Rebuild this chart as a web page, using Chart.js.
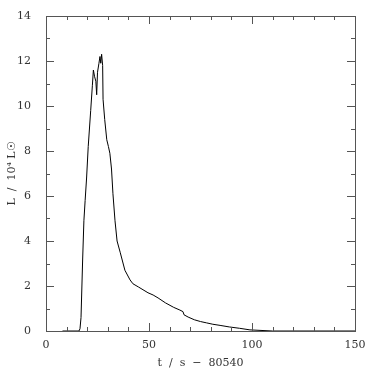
<!DOCTYPE html>
<html>
<head>
<meta charset="utf-8">
<script src="https://cdn.jsdelivr.net/npm/chart.js@4"></script>
<style>
  html, body { margin: 0; padding: 0; background: #fff; }
  #wrap { width: 374px; height: 370px; }
</style>
</head>
<body>
<div id="wrap"><canvas id="lightCurve" width="374" height="370"></canvas></div>
<script>
// time since 80540 s, and luminance in units of 10^4 Lsun
const times = [8, 16, 16.5, 17, 17.8, 18.4, 19, 19.7, 20.5, 21.7, 22.5, 23, 23.6, 24.2, 24.6, 25, 25.7, 26.2, 26.6, 27, 27.5, 27.7, 28.5, 29.5, 30.3, 31, 31.8, 32.5, 33.5, 34.5, 36, 38.3, 40.8, 42.2, 45, 49.5, 52, 54.4, 58, 62, 65, 66.5, 67, 69, 72, 75, 78, 81, 84.5, 89, 94, 99, 110, 150];
const lum = [0, 0, 0.1, 0.6, 3.2, 4.9, 5.8, 6.8, 8.2, 9.8, 10.9, 11.6, 11.3, 11.1, 10.5, 11.5, 11.9, 12.2, 11.9, 12.3, 11.8, 10.3, 9.4, 8.5, 8.2, 7.9, 7.2, 6.1, 4.9, 4.0, 3.5, 2.7, 2.27, 2.1, 1.95, 1.7, 1.6, 1.47, 1.25, 1.05, 0.93, 0.86, 0.72, 0.62, 0.5, 0.42, 0.36, 0.3, 0.25, 0.18, 0.12, 0.05, 0, 0];
const xTicks = [0, 50, 100, 150];
const yTicks = [0, 2, 4, 6, 8, 10, 12, 14];

const points = times.map((t, i) => ({ x: t, y: lum[i] }));

// frame with inward ticks on all four sides
const frameTicks = {
  id: 'frameTicks',
  afterDraw(chart) {
    const { ctx, chartArea: a, scales } = chart;
    const xs = scales.x, ys = scales.y;
    ctx.save();
    ctx.strokeStyle = '#555';
    ctx.lineWidth = 1;
    ctx.strokeRect(a.left + 0.5, a.top + 0.5, a.right - a.left, a.bottom - a.top);
    ctx.beginPath();
    for (let v = 0; v <= 150; v += 10) {
      const px = Math.round(xs.getPixelForValue(v)) + 0.5;
      const len = v % 50 === 0 ? 8 : 4;
      ctx.moveTo(px, a.bottom); ctx.lineTo(px, a.bottom - len);
      ctx.moveTo(px, a.top); ctx.lineTo(px, a.top + len);
    }
    for (let v = 0; v <= 14; v += 1) {
      const py = Math.round(ys.getPixelForValue(v)) + 0.5;
      const len = v % 2 === 0 ? 8 : 4;
      ctx.moveTo(a.left, py); ctx.lineTo(a.left + len, py);
      ctx.moveTo(a.right, py); ctx.lineTo(a.right - len, py);
    }
    ctx.stroke();
    ctx.restore();
  }
};

const font = { family: 'DejaVu Serif', size: 11 };

new Chart(document.getElementById('lightCurve'), {
  type: 'line',
  data: {
    datasets: [{
      data: points,
      borderColor: '#000',
      borderWidth: 1,
      pointRadius: 0,
      tension: 0,
      fill: false
    }]
  },
  options: {
    responsive: false,
    animation: false,
    layout: { padding: { top: 16, right: 19, left: 0, bottom: 0 } },
    plugins: { legend: { display: false }, tooltip: { enabled: false } },
    scales: {
      x: {
        type: 'linear',
        min: 0,
        max: 150,
        grid: { display: false },
        border: { display: false },
        afterBuildTicks: s => { s.ticks = xTicks.map(v => ({ value: v })); },
        afterFit: s => { s.height = 39; },
        ticks: { color: '#333', font: font, padding: 0, maxRotation: 0 },
        title: { display: true, text: 't  /  s  −  80540', color: '#333', font: font, padding: { top: 4, bottom: 0 } }
      },
      y: {
        min: 0,
        max: 14,
        grid: { display: false },
        border: { display: false },
        afterBuildTicks: s => { s.ticks = yTicks.map(v => ({ value: v })); },
        afterFit: s => { s.width = 46; },
        ticks: { color: '#333', font: font, padding: 7 },
        title: { display: true, text: 'L  /  10⁴ L☉', color: '#333', font: font, padding: { top: 6, bottom: 0 } }
      }
    }
  },
  plugins: [frameTicks]
});
</script>
</body>
</html>
